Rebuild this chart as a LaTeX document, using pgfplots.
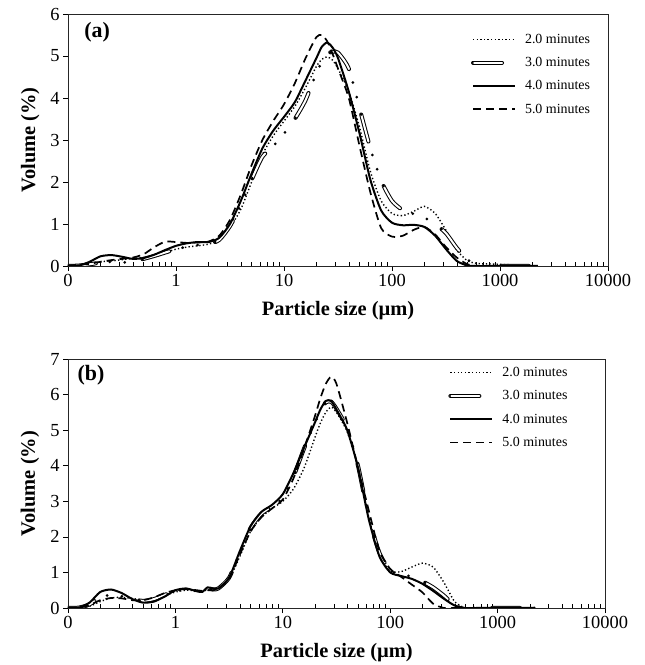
\documentclass[border=0pt]{standalone}
\usepackage{fontspec}
\setmainfont{Liberation Serif}
\usepackage{pgfplots}
\usepackage{pgfplotstable}
\pgfplotsset{compat=1.18}

% x = particle size (um); d2..d5 = volume (%) after 2.0, 3.0, 4.0, 5.0 minutes
\pgfplotstableread{
x d2 d3 d4 d5
0.1 0 0 0 0
0.1259 0.02 0.01 0.01 0.03
0.1585 0.05 0.04 0.1 0.05
0.1995 0.1 0.08 0.23 0.1
0.2512 0.12 0.1 0.26 0.14
0.3162 0.15 0.08 0.22 0.17
0.3981 0.18 0.12 0.17 0.2
0.5012 0.2 0.17 0.19 0.28
0.631 0.25 0.24 0.27 0.45
0.7943 0.32 0.32 0.38 0.58
1 0.4 0.4 0.48 0.57
1.259 0.45 0.46 0.54 0.55
1.585 0.48 0.5 0.57 0.56
1.995 0.52 0.52 0.57 0.58
2.512 0.62 0.62 0.67 0.72
3.162 0.92 0.95 1.0 1.1
3.981 1.35 1.45 1.55 1.7
5.012 2.0 2.05 2.2 2.4
6.31 2.65 2.6 2.8 3.0
7.943 3.1 2.85 3.22 3.45
10 3.45 3.15 3.55 3.85
12.59 3.8 3.5 3.9 4.35
15.85 4.25 3.95 4.42 4.95
19.95 4.75 4.6 4.95 5.45
22.39 4.92 4.85 5.22 5.5
25.12 4.98 5.05 5.32 5.35
28.18 4.9 5.1 5.2 5.05
31.62 4.7 5.08 4.95 4.7
39.81 4.15 4.7 4.15 4.0
50.12 3.3 3.75 3.15 2.85
63.1 2.25 2.8 2.05 1.75
79.43 1.55 2.03 1.32 0.9
100 1.25 1.55 1.03 0.7
125.9 1.2 1.33 0.97 0.72
158.5 1.3 1.24 0.98 0.86
199.5 1.42 1.15 0.93 0.93
251.2 1.25 1.0 0.72 0.75
316.2 0.85 0.78 0.4 0.45
398.1 0.38 0.43 0.12 0.2
501.2 0.12 0.15 0.01 0.04
631 0.06 0.02 0 0
794.3 0.05 0 0 0
1000 0.04 0 0 0
1259 0.03 0 0 0
1585 0.02 0 0 0
2239 0 0 0 0
}\dataA

\pgfplotstableread{
x d2 d3 d4 d5
0.1 0 0 0 0
0.1259 0.01 0.01 0.01 0.01
0.1585 0.05 0.1 0.15 0.08
0.1995 0.18 0.3 0.45 0.22
0.2512 0.28 0.37 0.52 0.28
0.3162 0.3 0.33 0.42 0.27
0.3981 0.27 0.25 0.25 0.22
0.5012 0.22 0.2 0.15 0.22
0.631 0.25 0.25 0.18 0.3
0.7943 0.35 0.37 0.32 0.42
1 0.45 0.48 0.5 0.5
1.259 0.5 0.52 0.55 0.53
1.585 0.48 0.48 0.47 0.5
1.778 0.46 0.45 0.45 0.48
1.995 0.52 0.55 0.58 0.5
2.239 0.52 0.52 0.55 0.5
2.512 0.52 0.55 0.55 0.55
3.162 0.8 0.85 0.85 0.82
3.981 1.45 1.55 1.6 1.5
5.012 2.15 2.25 2.3 2.15
6.31 2.55 2.65 2.7 2.55
7.943 2.8 2.85 2.9 2.8
10 3.0 3.1 3.2 3.05
12.59 3.35 3.7 3.8 3.65
15.85 3.95 4.5 4.52 4.5
19.95 4.8 5.2 5.22 5.4
22.39 5.2 5.55 5.58 5.9
25.12 5.5 5.78 5.82 6.3
28.18 5.65 5.8 5.82 6.5
31.62 5.5 5.6 5.58 6.3
39.81 4.95 5.05 5.0 5.2
50.12 3.95 4.0 3.95 3.95
63.1 2.55 2.55 2.5 2.75
79.43 1.5 1.55 1.45 1.6
100 1.05 1.05 1.0 1.1
125.9 1.02 0.95 0.9 0.88
158.5 1.15 0.88 0.82 0.66
199.5 1.26 0.75 0.68 0.44
251.2 1.15 0.58 0.48 0.12
316.2 0.72 0.35 0.26 0
398.1 0.18 0.08 0.07 0
501.2 0 0 0 0
631 0 0 0 0
1000 0 0 0 0
2239 0 0 0 0
}\dataB

\pgfplotsset{
  s2/.style={black, line width=1.4bp, dash pattern=on 1.3bp off 2.3bp, smooth, tension=0.4},
  s3/.style={black, line width=1bp, double=white, double distance=2bp, line cap=round,
             dash pattern=on 28bp off 47bp, smooth, tension=0.4},
  s3dots/.style={black, line width=3bp, line cap=round,
             dash pattern=on 0bp off 42bp on 0bp off 15bp on 0bp off 18bp, smooth, tension=0.4, forget plot},
  s4/.style={black, line width=2bp, smooth, tension=0.4},
  s5/.style={black, line width=1.7bp, dash pattern=on 8bp off 5bp, smooth, tension=0.4},
  leg3/.style={legend image code/.code={\path (0bp,0bp) -- (42bp,0bp);
      \draw[black, line width=1bp, double=white, double distance=2bp, line cap=round] (1bp,0bp) -- (30bp,0bp);}},
}

\begin{document}
\begin{tikzpicture}
\pgfplotsset{
  every axis/.append style={
    xmode=log, xmin=0.1, xmax=10000,
    scale only axis,
    xtick={0.1,1,10,100,1000,10000},
    xticklabels={0,1,10,100,1000,10000},
    minor xtick={0.2,0.3,0.4,0.5,0.6,0.7,0.8,0.9,2,3,4,5,6,7,8,9,20,30,40,50,60,70,80,90,200,300,400,500,600,700,800,900,2000,3000,4000,5000,6000,7000,8000,9000},
    xtick pos=bottom, ytick pos=left,
    tick align=outside,
    major tick length=5bp, minor tick length=4bp,
    minor x tick style={yshift=4bp},
    every tick/.style={black, line width=0.7bp},
    axis line style={line width=0.8bp, black!85},
    tick label style={font=\fontsize{18.5}{20}\selectfont},
    /pgf/number format/assume math mode=true,
    xlabel={\textbf{Particle size (µm)}},
    ylabel={\textbf{Volume (\%)}},
    label style={font=\fontsize{20.5}{22}\selectfont},
    xlabel style={at={(axis description cs:0.5,0)}, anchor=center, yshift=-45bp},
    legend style={draw=none, fill=none, inner sep=0pt,
      font=\fontsize{14}{16}\selectfont, row sep=8.6bp,
      /tikz/every odd column/.append style={column sep=6bp}},
    legend cell align=left,
  },
}
\pgfplotsset{legend image code/.code={\draw[#1] (0bp,0bp) -- (42bp,0bp);}}
\begin{axis}[at={(68bp,399bp)}, anchor=south west, width=540bp, height=252bp,
  ymin=0, ymax=6, ytick={0,1,2,3,4,5,6},
  ylabel style={at={(axis description cs:-0.07,0.5)}, anchor=center},
  legend style={at={(axis description cs:0.746,0.93)}, anchor=north west}]
\addplot[s2] table[x=x, y=d2] {\dataA};
\addlegendentry{2.0 minutes}
\addplot[s3, leg3] table[x=x, y=d3] {\dataA};
\addlegendentry{3.0 minutes}
\addplot[s4] table[x=x, y=d4] {\dataA};
\addlegendentry{4.0 minutes}
\addplot[s5] table[x=x, y=d5] {\dataA};
\addlegendentry{5.0 minutes}
\addplot[s3dots] table[x=x, y=d3] {\dataA};
\node[font=\fontsize{22}{24}\selectfont\bfseries] at (axis description cs:0.054,0.929) {(a)};
\end{axis}

\begin{axis}[at={(68bp,57bp)}, anchor=south west, width=537bp, height=249bp,
  ymin=0, ymax=7, ytick={0,1,2,3,4,5,6,7},
  ylabel style={at={(axis description cs:-0.0708,0.5)}, anchor=center},
  legend style={at={(axis description cs:0.708,0.976)}, anchor=north west}]
\addplot[s2] table[x=x, y=d2] {\dataB};
\addlegendentry{2.0 minutes}
\addplot[s3, leg3] table[x=x, y=d3] {\dataB};
\addlegendentry{3.0 minutes}
\addplot[s4] table[x=x, y=d4] {\dataB};
\addlegendentry{4.0 minutes}
\addplot[s5] table[x=x, y=d5] {\dataB};
\addlegendentry{5.0 minutes}
\addplot[s3dots] table[x=x, y=d3] {\dataB};
\node[font=\fontsize{22}{24}\selectfont\bfseries] at (axis description cs:0.043,0.936) {(b)};
\end{axis}
\pgfresetboundingbox
\useasboundingbox (0,0) rectangle (645bp,665bp);
\end{tikzpicture}
\end{document}
